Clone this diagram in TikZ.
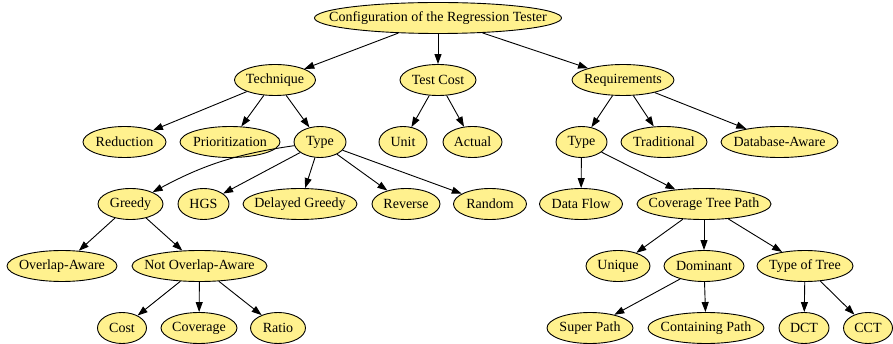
\documentclass[tikz,border=0pt]{standalone}
\usepackage{fontspec}
\newfontfamily\nodefont{Liberation Serif}
\usepackage{tikz}
\usetikzlibrary{shapes, arrows.meta}
\definecolor{nodefill}{RGB}{255,241,142}

\begin{document}
\begin{tikzpicture}[x=1pt, y=-1pt, >={Triangle[length=10pt,width=7pt]},
  elli/.style={ellipse, draw, fill=nodefill, line width=0.9pt, inner xsep=-60pt, inner ysep=0pt,
    minimum height=31pt, minimum width=#1, font=\nodefont\fontsize{14}{16}\selectfont},
  link/.style={->, line width=0.9pt}]
\useasboundingbox (0,0) rectangle (893,344);
% level 0 and 1
\node[elli=247] (root) at (438,18) {Configuration of the Regression Tester};
\node[elli=81] (tech) at (275,80) {Technique};
\node[elli=76] (cost) at (438,80) {Test Cost};
\node[elli=102] (req) at (623,80) {Requirements};
% level 2
\node[elli=83] (red) at (124.5,142) {Reduction};
\node[elli=100] (prio) at (230,142) {Prioritization};
\node[elli=52] (ttype) at (320,142) {Type};
\node[elli=48] (unit) at (403,142) {Unit};
\node[elli=59] (actual) at (472.5,142) {Actual};
\node[elli=51] (rtype) at (581.5,142) {Type};
\node[elli=86] (trad) at (664,142) {Traditional};
\node[elli=117] (dbaware) at (779.5,142) {Database-Aware};
% level 3
\node[elli=65] (greedy) at (130.5,204) {Greedy};
\node[elli=51] (hgs) at (203.5,204) {HGS};
\node[elli=114] (delayed) at (300,204) {Delayed Greedy};
\node[elli=68] (reverse) at (406,204) {Reverse};
\node[elli=73] (random) at (490,204) {Random};
\node[elli=83] (dflow) at (581,204) {Data Flow};
\node[elli=134] (ctp) at (704,204) {Coverage Tree Path};
% level 4
\node[elli=110] (oaware) at (62,266) {Overlap-Aware};
\node[elli=135] (noaware) at (199.5,266) {Not Overlap-Aware};
\node[elli=64] (unique) at (618,266) {Unique};
\node[elli=80] (dominant) at (704,266) {Dominant};
\node[elli=96] (ttree) at (805,266) {Type of Tree};
% level 5
\node[elli=49] (ccost) at (122,328) {Cost};
\node[elli=76] (coverage) at (199,328) {Coverage};
\node[elli=55] (ratio) at (278,328) {Ratio};
\node[elli=86] (super) at (590,328) {Super Path};
\node[elli=116] (contain) at (706,328) {Containing Path};
\node[elli=50] (dct) at (804,328) {DCT};
\node[elli=49] (cct) at (868,328) {CCT};
% edges
\draw[link] (root) -- (tech);
\draw[link] (root) -- (cost);
\draw[link] (root) -- (req);
\draw[link] (tech) -- (red);
\draw[link] (tech) -- (prio);
\draw[link] (tech) -- (ttype);
\draw[link] (cost) -- (unit);
\draw[link] (cost) -- (actual);
\draw[link] (req) -- (rtype);
\draw[link] (req) -- (trad);
\draw[link] (req) -- (dbaware);
\draw[link] (ttype) to[bend right=10] (greedy);
\draw[link] (ttype) -- (hgs);
\draw[link] (ttype) -- (delayed);
\draw[link] (ttype) -- (reverse);
\draw[link] (ttype) -- (random);
\draw[link] (rtype) -- (dflow);
\draw[link] (rtype) -- (ctp);
\draw[link] (greedy) -- (oaware);
\draw[link] (greedy) -- (noaware);
\draw[link] (ctp) -- (unique);
\draw[link] (ctp) -- (dominant);
\draw[link] (ctp) -- (ttree);
\draw[link] (noaware) -- (ccost);
\draw[link] (noaware) -- (coverage);
\draw[link] (noaware) -- (ratio);
\draw[link] (dominant) -- (super);
\draw[link] (dominant) -- (contain);
\draw[link] (ttree) -- (dct);
\draw[link] (ttree) -- (cct);
\end{tikzpicture}
\end{document}
